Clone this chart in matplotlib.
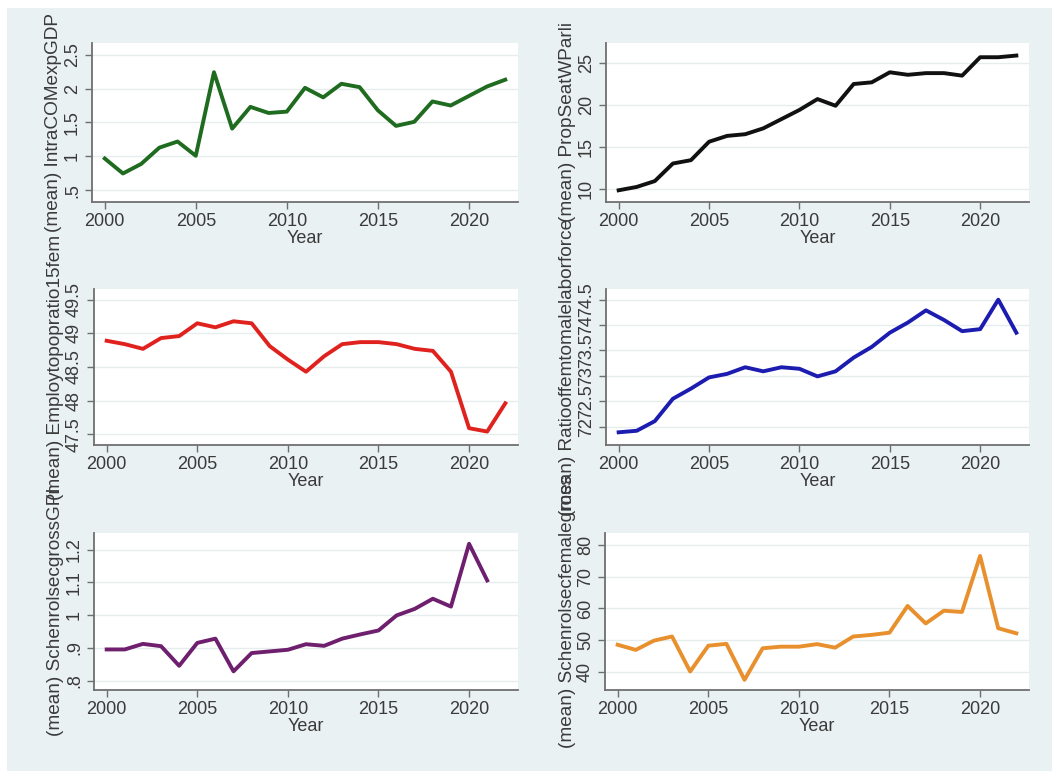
import numpy as np
import matplotlib
matplotlib.use("Agg")
import matplotlib.pyplot as plt
from matplotlib.patches import Rectangle

plt.rcParams["font.family"] = ["Liberation Sans", "DejaVu Sans"]

# ---------------------------------------------------------------------------
# data
# ---------------------------------------------------------------------------
years = list(range(2000, 2023))
years_gpi = list(range(2000, 2022))

intra_com = [0.97, 0.75, 0.89, 1.13, 1.22, 1.01, 2.24, 1.41, 1.73, 1.64, 1.66,
             2.01, 1.87, 2.07, 2.02, 1.68, 1.45, 1.51, 1.81, 1.75, 1.89, 2.03, 2.13]
prop_seat = [9.8, 10.2, 10.9, 13.0, 13.4, 15.6, 16.3, 16.5, 17.2, 18.3, 19.4,
             20.7, 19.9, 22.5, 22.7, 23.9, 23.6, 23.8, 23.8, 23.5, 25.7, 25.7, 25.9]
employ = [48.89, 48.84, 48.77, 48.93, 48.96, 49.15, 49.09, 49.18, 49.15, 48.81, 48.61,
          48.43, 48.66, 48.84, 48.87, 48.87, 48.84, 48.77, 48.74, 48.43, 47.59, 47.54, 47.96]
ratio_lab = [71.89, 71.92, 72.11, 72.55, 72.75, 72.97, 73.04, 73.17, 73.09, 73.17, 73.14,
             72.99, 73.09, 73.36, 73.57, 73.85, 74.05, 74.29, 74.10, 73.88, 73.92, 74.50, 73.85]
gpi = [0.895, 0.895, 0.912, 0.905, 0.845, 0.915, 0.928, 0.828, 0.884, 0.889, 0.894,
       0.911, 0.906, 0.928, 0.941, 0.953, 0.999, 1.019, 1.050, 1.026, 1.218, 1.106]
sec_fem = [48.6, 47.0, 49.9, 51.2, 40.2, 48.3, 48.9, 37.6, 47.5, 48.0, 48.0,
           48.8, 47.7, 51.2, 51.7, 52.4, 60.8, 55.3, 59.3, 58.9, 76.5, 53.8, 52.2]

x_ticks = [2000, 2005, 2010, 2015, 2020]

panels = [
    # (x, y, ylabel, yticks, yticklabels, ylim, colour)
    (years, intra_com, "(mean) IntraCOMexpGDP",
     [0.5, 1, 1.5, 2, 2.5], [".5", "1", "1.5", "2", "2.5"], (0.33, 2.67), "#1f6b1f"),
    (years, prop_seat, "(mean) PropSeatWParli",
     [10, 15, 20, 25], ["10", "15", "20", "25"], (8.4, 27.4), "#111111"),
    (years, employ, "(mean) Employtopopratio15fem",
     [47.5, 48, 48.5, 49, 49.5], ["47.5", "48", "48.5", "49", "49.5"], (47.34, 49.66), "#e0221e"),
    (years, ratio_lab, "(mean) Ratiooffemtomalelaborforce",
     [72, 72.5, 73, 73.5, 74, 74.5], ["72", "72.5", "73", "73.5", "74", "74.5"], (71.64, 74.71), "#1c1cb0"),
    (years_gpi, gpi, "(mean) SchenrolsecgrossGPI",
     [0.8, 0.9, 1, 1.1, 1.2], [".8", ".9", "1", "1.1", "1.2"], (0.771, 1.251), "#6e1f6e"),
    (years, sec_fem, "(mean) Schenrolsecfemalegross",
     [40, 50, 60, 70, 80], ["40", "50", "60", "70", "80"], (34.4, 83.7), "#e8902e"),
]

# axes boxes in pixels: left, right, top, bottom
W, H = 1052, 771
boxes = [
    (92, 518, 43, 202), (606, 1029, 43, 202),
    (94, 518, 289, 445), (606, 1029, 289, 445),
    (94, 518, 533, 690), (605, 1029, 533, 690),
]

fig = plt.figure(figsize=(W / 100, H / 100), dpi=100, facecolor="white")
fig.patches.append(Rectangle((7 / W, 0), 1, 1 - 8 / H, transform=fig.transFigure,
                             facecolor="#eaf1f3", edgecolor="none", zorder=-10))

txt = "#3a3a3a"
for (x, y, ylab, yt, ytl, ylim, col), (l, r, t, b) in zip(panels, boxes):
    ax = fig.add_axes([l / W, 1 - b / H, (r - l) / W, (b - t) / H])
    ax.set_facecolor("white")
    ax.plot(x, y, color=col, lw=2.8, zorder=3)
    ax.set_xlim(1999.3, 2022.7)
    ax.set_ylim(*ylim)
    ax.set_xticks(x_ticks)
    ax.set_yticks(yt)
    ax.set_yticklabels(ytl, rotation=90, va="center")
    ax.grid(axis="y", color="#e6edef", lw=1.0)
    ax.set_axisbelow(True)
    for s in ["top", "right"]:
        ax.spines[s].set_visible(False)
    for s in ["left", "bottom"]:
        ax.spines[s].set_color("#6f6f6f")
        ax.spines[s].set_linewidth(1.3)
    ax.tick_params(axis="both", colors="#6f6f6f", labelcolor=txt, labelsize=13,
                   length=5, width=1.0)
    ax.tick_params(axis="y", pad=3)
    ax.tick_params(axis="x", pad=3)
    ax.set_xlabel("Year", fontsize=13, color=txt, labelpad=0)
    ax.set_ylabel(ylab, fontsize=13.7, color=txt, labelpad=1)

fig.savefig("out.png", dpi=100, facecolor=fig.get_facecolor())
